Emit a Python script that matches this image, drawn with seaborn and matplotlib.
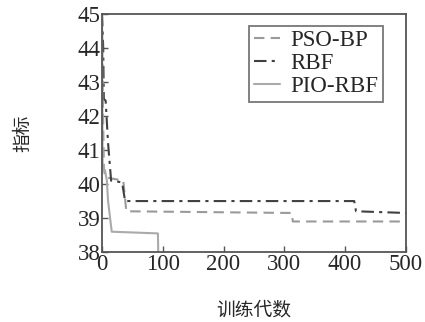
import matplotlib
matplotlib.use("Agg")
import matplotlib.pyplot as plt
import numpy as np
import pandas as pd
import seaborn as sns

# curve vertices
pso_x = [0, 1, 3, 5, 35, 40, 312, 314, 492]
pso_y = [45, 43, 40.5, 40.2, 40.1, 39.2, 39.15, 38.9, 38.9]
rbf_x = [0, 2, 3, 6, 10, 15, 33, 38, 415, 418, 500]
rbf_y = [45, 44, 42.5, 42.45, 41.2, 40.1, 40.05, 39.5, 39.5, 39.2, 39.15]
pio_x = [0, 1, 5, 8, 10, 16, 92, 93]
pio_y = [45, 40.5, 40.4, 40.1, 39.5, 38.6, 38.55, 37.5]

series = {"PSO-BP": (pso_x, pso_y), "RBF": (rbf_x, rbf_y), "PIO-RBF": (pio_x, pio_y)}
frames = []
for name, (xs, ys) in series.items():
    frames.append(pd.DataFrame({"x": xs, "y": ys, "name": name, "order": range(len(xs))}))
df = pd.concat(frames)

sns.set_style("ticks")
plt.rcParams['font.family'] = ['Liberation Serif', 'Noto Sans CJK SC']

fig = plt.figure(figsize=(4.25, 3.22), dpi=100)
ax = fig.add_axes([0.24, 0.217, 0.715, 0.74])

styles = {"PSO-BP": ("#9a9a9a", (0, (5, 3))),
          "RBF": ("#404040", (0, (6, 2.5, 1.5, 2.5))),
          "PIO-RBF": ("#aaaaaa", "-")}
for name in series:
    color, ls = styles[name]
    sns.lineplot(data=df[df["name"] == name], x="x", y="y", sort=False, estimator=None,
                 ax=ax, color=color, linestyle=ls, linewidth=1.5, label=name)

ax.set_xlim(0, 500)
ax.set_ylim(38, 45)
ax.set_xticks(np.arange(0, 501, 100))
ax.set_yticks(np.arange(38, 46, 1))
ax.tick_params(direction="in", length=4, width=1, labelsize=16.5, color="#555555", pad=1)
for sp in ax.spines.values():
    sp.set_color("#555555")
    sp.set_linewidth(1.3)

ax.set_xlabel("训练代数", fontsize=13.5, family=['Noto Sans CJK SC'], labelpad=18)
ax.set_ylabel("指标", fontsize=13.5, family=['Noto Sans CJK SC'], labelpad=32)

leg = ax.legend(loc="upper right", bbox_to_anchor=(0.925, 0.95), fontsize=16.5, frameon=True,
                fancybox=False, edgecolor="#555555", handlelength=1.15, borderpad=0.2,
                labelspacing=0.08, handletextpad=0.45, borderaxespad=0)
leg.get_frame().set_linewidth(1.3)

fig.savefig("out.png", dpi=100)
